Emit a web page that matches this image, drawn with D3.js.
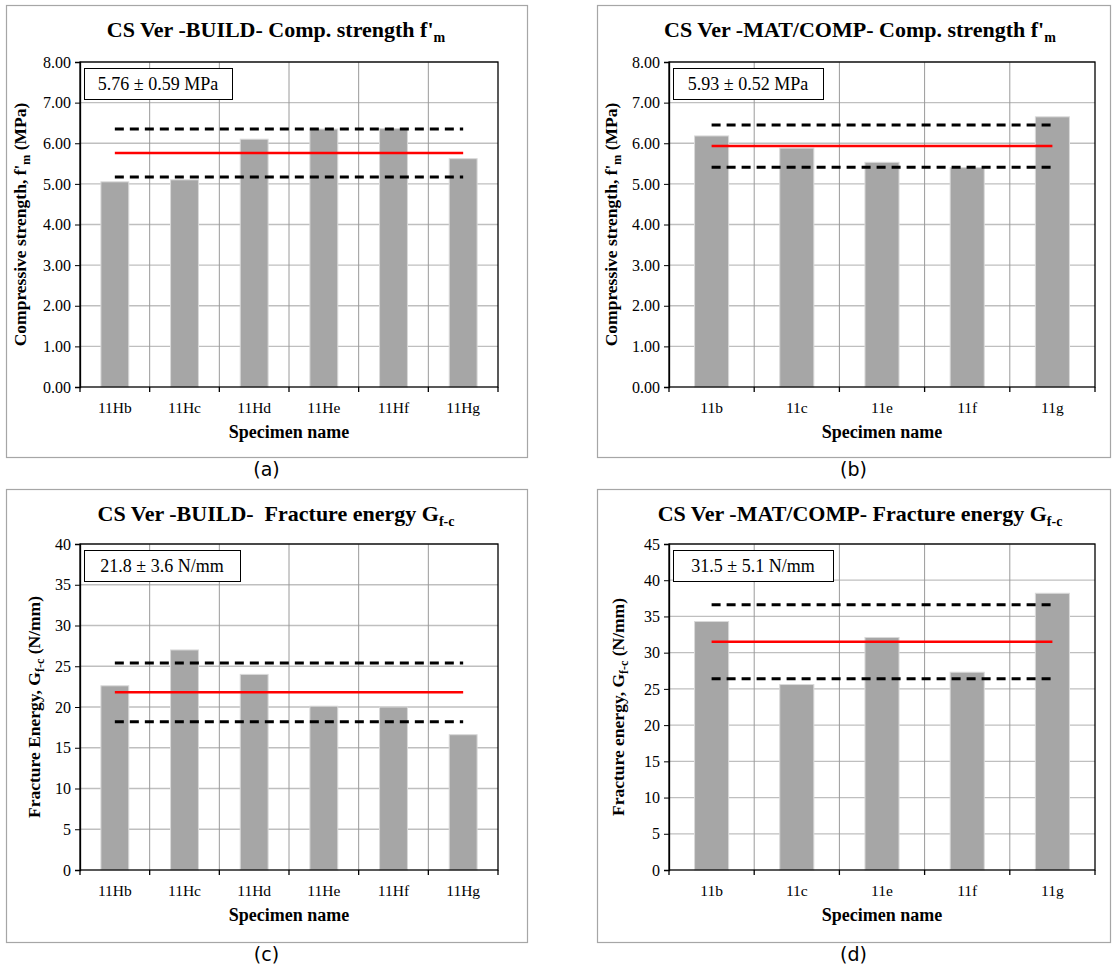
<!DOCTYPE html>
<html lang="en">
<head>
<meta charset="UTF-8">
<title>CS Ver charts</title>
<script src="https://d3js.org/d3.v7.min.js"></script>
<style>
  body { margin: 0; background: #fff; }
  svg text { font-family: "Liberation Serif", "Times New Roman", serif; fill: #000; white-space: pre; }
  svg text.cap { font-family: "DejaVu Sans", sans-serif; }
</style>
</head>
<body>
<svg id="fig" width="1116" height="972"></svg>
<script>
  // data
  const namesBuild = ["11Hb", "11Hc", "11Hd", "11He", "11Hf", "11Hg"];
  const namesMat = ["11b", "11c", "11e", "11f", "11g"];
  const fmBuild = [5.05, 5.10, 6.10, 6.35, 6.36, 5.62];
  const fmMat = [6.18, 5.88, 5.53, 5.40, 6.65];
  const gfBuild = [22.6, 27.0, 24.0, 20.1, 20.0, 16.6];
  const gfMat = [34.3, 25.6, 32.1, 27.3, 38.2];
  const means = [5.76, 5.93, 21.8, 31.5];
  const sds = [0.59, 0.52, 3.6, 5.1];
  const fmTicks = [0, 1, 2, 3, 4, 5, 6, 7, 8];
  const gfBuildTicks = [0, 5, 10, 15, 20, 25, 30, 35, 40];
  const gfMatTicks = [0, 5, 10, 15, 20, 25, 30, 35, 40, 45];

  const svg = d3.select("#fig");
  const serif = '"Liberation Serif", "Times New Roman", serif';

  function drawPanel(p) {
    const g = svg.append("g").attr("transform", `translate(${p.x},${p.y})`);

    // outer frame
    g.append("rect")
      .attr("x", 0.5).attr("y", 0.5)
      .attr("width", p.w).attr("height", p.h)
      .attr("fill", "#fff").attr("stroke", "#a6a6a6").attr("stroke-width", 1.2);

    // title with subscript
    const t = g.append("text")
      .attr("x", p.titleX).attr("y", 32)
      .attr("text-anchor", "middle")
      .attr("font-size", 22).attr("font-weight", "bold")
      .text(p.title);
    t.append("tspan").attr("font-size", 14).attr("dy", 5).text(p.titleSub);

    const x = d3.scaleBand().domain(p.names).range([p.left, p.right]);
    const y = d3.scaleLinear().domain([0, p.ticks[p.ticks.length - 1]]).range([p.bottom, p.top]);

    // gridlines
    g.append("g").selectAll("line").data(p.ticks.slice(1)).join("line")
      .attr("x1", p.left).attr("x2", p.right)
      .attr("y1", d => y(d)).attr("y2", d => y(d))
      .attr("stroke", "#bfbfbf").attr("stroke-width", 1.3);
    g.append("g").selectAll("line").data(p.names.slice(1)).join("line")
      .attr("x1", d => x(d)).attr("x2", d => x(d))
      .attr("y1", p.top).attr("y2", p.bottom)
      .attr("stroke", "#9a9a9a").attr("stroke-width", 1);

    // bars
    const bw = x.bandwidth() / 2.5;
    g.append("g").selectAll("rect").data(p.values).join("rect")
      .attr("x", (d, i) => x(p.names[i]) + (x.bandwidth() - bw) / 2)
      .attr("y", d => y(d))
      .attr("width", bw)
      .attr("height", d => y(0) - y(d))
      .attr("fill", "#a6a6a6").attr("stroke", "#d9d9d9").attr("stroke-width", 1);

    // mean and +/- sd lines
    const x1 = x(p.names[0]) + x.bandwidth() / 2;
    const x2 = x(p.names[p.names.length - 1]) + x.bandwidth() / 2;
    [p.mean + p.sd, p.mean - p.sd].forEach(v => {
      g.append("line")
        .attr("x1", x1).attr("x2", x2).attr("y1", y(v)).attr("y2", y(v))
        .attr("stroke", "#000").attr("stroke-width", 3)
        .attr("stroke-dasharray", "9,6");
    });
    g.append("line")
      .attr("x1", x1).attr("x2", x2).attr("y1", y(p.mean)).attr("y2", y(p.mean))
      .attr("stroke", "#ff0000").attr("stroke-width", 2.5);

    // plot frame
    g.append("rect")
      .attr("x", p.left).attr("y", p.top)
      .attr("width", p.right - p.left).attr("height", p.bottom - p.top)
      .attr("fill", "none").attr("stroke", "#000").attr("stroke-width", 1.3);

    // y axis
    const ya = g.append("g").attr("transform", `translate(${p.left},0)`)
      .call(d3.axisLeft(y).tickValues(p.ticks).tickFormat(p.fmt).tickSize(5).tickPadding(4));
    ya.attr("font-family", serif).attr("font-size", 16);
    ya.select(".domain").attr("stroke", "#000").attr("stroke-width", 1.3);
    ya.selectAll("text").style("font-family", serif);

    // x axis: ticks at band boundaries
    g.append("g").selectAll("line").data(p.names.concat([null])).join("line")
      .attr("x1", (d, i) => p.left + i * x.step()).attr("x2", (d, i) => p.left + i * x.step())
      .attr("y1", p.bottom).attr("y2", p.bottom + 5)
      .attr("stroke", "#000").attr("stroke-width", 1.3);
    g.append("g").selectAll("text").data(p.names).join("text")
      .attr("x", d => x(d) + x.bandwidth() / 2)
      .attr("y", p.bottom + 26)
      .attr("text-anchor", "middle").attr("font-size", 15.5)
      .text(d => d);

    g.append("text")
      .attr("x", (p.left + p.right) / 2).attr("y", p.bottom + 51)
      .attr("text-anchor", "middle").attr("font-size", 18).attr("font-weight", "bold")
      .text("Specimen name");

    // y title
    const yt = g.append("text")
      .attr("transform", `translate(${p.yTitleX},${(p.top + p.bottom) / 2}) rotate(-90)`)
      .attr("text-anchor", "middle").attr("font-size", 17.5).attr("font-weight", "bold");
    yt.append("tspan").text(p.yTitle[0]);
    yt.append("tspan").attr("font-size", 12).attr("dy", 4).text(p.yTitle[1]);
    yt.append("tspan").attr("dy", -4).text(p.yTitle[2]);

    // stats box
    const bx = g.append("g").attr("transform", `translate(${p.left + 4},${p.top + 6})`);
    bx.append("rect").attr("x", 0.5).attr("y", 0.5).attr("width", p.boxW).attr("height", 31)
      .attr("fill", "#fff").attr("stroke", "#000").attr("stroke-width", 1);
    bx.append("text").attr("x", p.boxW / 2).attr("y", 22)
      .attr("text-anchor", "middle").attr("font-size", 18).text(p.label);

    // caption
    svg.append("text").attr("class", "cap")
      .attr("x", p.x + p.w / 2).attr("y", p.y + p.h + 19)
      .attr("text-anchor", "middle").attr("font-size", 19).text(p.cap);
  }

  const fmt2 = d3.format(".2f");
  const fmt0 = d3.format("d");

  drawPanel({
    x: 6, y: 5, w: 521, h: 452, titleX: 270,
    title: "CS Ver -BUILD- Comp. strength f'", titleSub: "m",
    names: namesBuild, values: fmBuild, ticks: fmTicks, fmt: fmt2,
    left: 74, right: 492, top: 57, bottom: 382,
    mean: means[0], sd: sds[0], label: `${fmt2(means[0])} ± ${fmt2(sds[0])} MPa`, boxW: 148,
    yTitle: ["Compressive strength, f'", "m", " (MPa)"], yTitleX: 20, cap: "(a)"
  });
  drawPanel({
    x: 597, y: 5, w: 513, h: 452, titleX: 263,
    title: "CS Ver -MAT/COMP- Comp. strength f'", titleSub: "m",
    names: namesMat, values: fmMat, ticks: fmTicks, fmt: fmt2,
    left: 72, right: 498, top: 57, bottom: 382,
    mean: means[1], sd: sds[1], label: `${fmt2(means[1])} ± ${fmt2(sds[1])} MPa`, boxW: 150,
    yTitle: ["Compressive strength, f'", "m", " (MPa)"], yTitleX: 20, cap: "(b)"
  });
  drawPanel({
    x: 6, y: 489, w: 521, h: 453, titleX: 270,
    title: "CS Ver -BUILD-  Fracture energy G", titleSub: "f-c",
    names: namesBuild, values: gfBuild, ticks: gfBuildTicks, fmt: fmt0,
    left: 74, right: 492, top: 55, bottom: 381,
    mean: means[2], sd: sds[2], label: `${means[2].toFixed(1)} ± ${sds[2].toFixed(1)} N/mm`, boxW: 156,
    yTitle: ["Fracture Energy, G", "f-c", " (N/mm)"], yTitleX: 34, cap: "(c)"
  });
  drawPanel({
    x: 597, y: 489, w: 513, h: 453, titleX: 263,
    title: "CS Ver -MAT/COMP- Fracture energy G", titleSub: "f-c",
    names: namesMat, values: gfMat, ticks: gfMatTicks, fmt: fmt0,
    left: 72, right: 498, top: 55, bottom: 381,
    mean: means[3], sd: sds[3], label: `${means[3].toFixed(1)} ± ${sds[3].toFixed(1)} N/mm`, boxW: 160,
    yTitle: ["Fracture energy, G", "f-c", " (N/mm)"], yTitleX: 27, cap: "(d)"
  });
</script>
</body>
</html>
